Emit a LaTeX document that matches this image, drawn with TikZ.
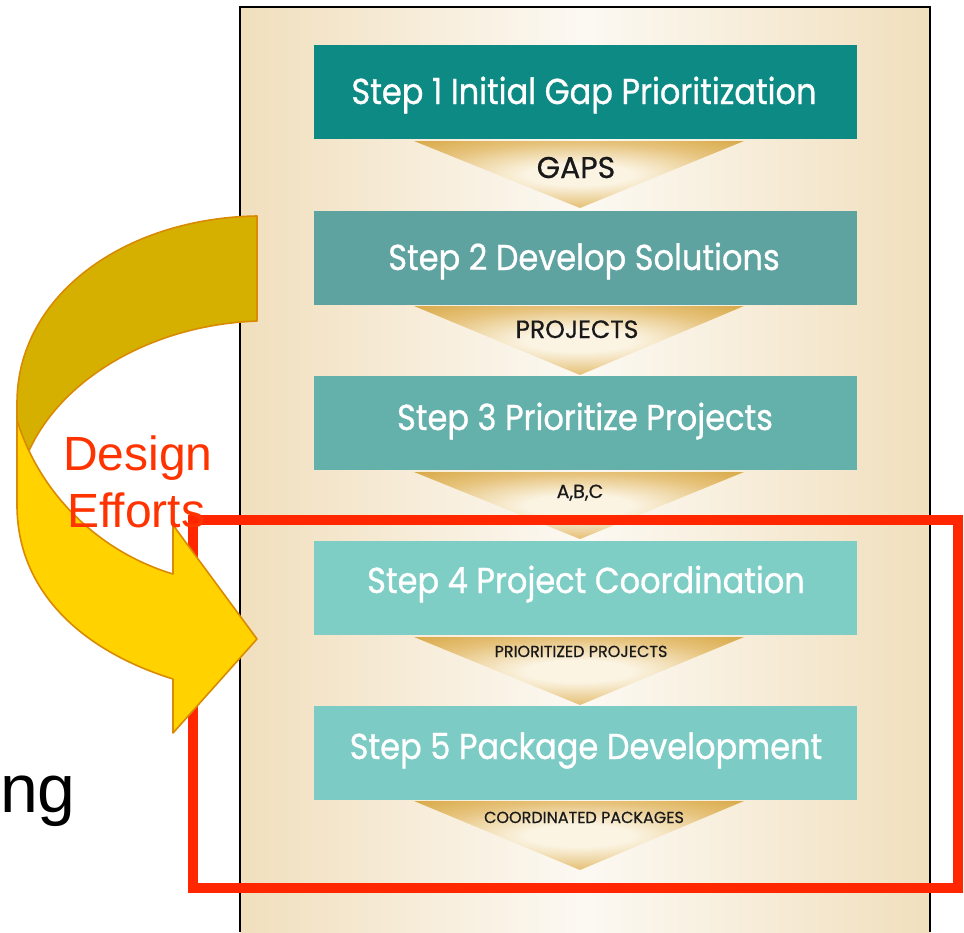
\documentclass[tikz,border=0pt]{standalone}
\usepackage{fontspec}
\setmainfont{Liberation Sans}
\newfontfamily\stepfont[FakeStretch=0.89,FakeBold=0.8]{Poppins}
\newfontfamily\labfont[FakeBold=0.6]{Poppins}
\newfontfamily\arialfont{Liberation Sans}
\definecolor{panelTan}{HTML}{F1DFBD}
\definecolor{panelCream}{HTML}{FCF9F3}
\definecolor{stepA}{HTML}{0E8A85}
\definecolor{stepB}{HTML}{5FA3A0}
\definecolor{stepC}{HTML}{64B0AB}
\definecolor{stepD}{HTML}{7FCEC6}
\definecolor{stepE}{HTML}{7DCBC5}
\definecolor{goldF}{HTML}{D3A035}
\definecolor{goldM}{HTML}{E6C27A}
\definecolor{creamF}{HTML}{FBF4E3}
\definecolor{redR}{HTML}{FF2600}
\definecolor{arrowDark}{HTML}{D5B000}
\definecolor{arrowLight}{HTML}{FFD200}
\definecolor{arrowEdge}{HTML}{D98A00}
\definecolor{textRed}{HTML}{FF3300}
\pgfdeclareradialshading{funnelshade}{\pgfpoint{0bp}{0bp}}{color(0bp)=(creamF); color(8bp)=(creamF); color(24bp)=(goldM); color(40bp)=(goldF); color(60bp)=(goldF)}
\begin{document}
\begin{tikzpicture}[x=1pt,y=-1pt,
  stepbox/.style={fill=#1, draw=none, minimum width=543pt, minimum height=94pt, inner sep=0pt},
  steptext/.style={text=white, inner sep=0pt, anchor=base, font=\stepfont\fontsize{36}{40}\selectfont},
  funnel/.style={shading=funnelshade, draw=none},
  funneltext/.style={text=black!90, inner sep=0pt, anchor=base, font=\labfont\fontsize{#1}{#1}\selectfont},
  arrowpart/.style={fill=#1, draw=arrowEdge, line width=1.6pt, line join=round},
  redtext/.style={text=textRed, inner sep=0pt, anchor=base west, font=\arialfont\fontsize{48}{56}\selectfont}
]
\useasboundingbox (0,0) rectangle (964,932);
\fill[white] (0,0) rectangle (964,932);
% panel
\shade[left color=panelTan, right color=panelTan, middle color=panelCream] (240,7) rectangle (930,932);
\draw[line width=2.5pt] (240,932) -- (240,7) -- (930,7) -- (930,932);
% step boxes
\node[stepbox=stepA] (s1) at (585,92) {};
\node[stepbox=stepB] (s2) at (585,258) {};
\node[stepbox=stepC] (s3) at (585,423) {};
\node[stepbox=stepD] (s4) at (585,587.5) {};
\node[stepbox=stepE] (s5) at (585,752.5) {};
\node[steptext] (t1) at (584,104) {Step 1 Initial Gap Prioritization};
\node[steptext] (t2) at (584,270) {Step 2 Develop Solutions};
\node[steptext] (t3) at (585,430) {Step 3 Prioritize Projects};
\node[steptext] (t4) at (586,593) {Step 4 Project Coordination};
\node[steptext] (t5) at (586,759) {Step 5 Package Development};
% funnels
\shade[funnel] (414,141) -- (744,141) -- (580,208) -- cycle;
\shade[funnel] (414,306) -- (744,306) -- (580,375) -- cycle;
\shade[funnel] (414,472) -- (744,472) -- (580,539) -- cycle;
\shade[funnel] (414,637) -- (744,637) -- (580,705) -- cycle;
\shade[funnel] (414,801) -- (744,801) -- (580,870) -- cycle;
\node[funneltext=30] (l1) at (576,178) {GAPS};
\node[funneltext=25] (l2) at (577,338) {PROJECTS};
\node[funneltext=19] (l3) at (580,498) {A,B,C};
\node[funneltext=16] (l4) at (581,657) {PRIORITIZED PROJECTS};
\node[funneltext=16] (l5) at (584,823) {COORDINATED PACKAGES};
% red frame
\draw[redR, line width=10pt] (193,520) rectangle (958,888);
% curved arrow: back band
\path[arrowpart=arrowDark] (257,216) .. controls (125,218) and (17,295) .. (17,403)
  -- (17,440) -- (28,453) .. controls (60,380) and (150,325) .. (257,321) -- cycle;
% front band with head
\path[arrowpart=arrowLight] (17,420) .. controls (40,495) and (100,552) .. (173,574)
  -- (173,525) -- (257,639) -- (173,733) -- (173,679)
  .. controls (80,650) and (17,590) .. (17,505) -- cycle;
% texts
\node[redtext] (d1) at (63,470) {Design};
\node[redtext] (d2) at (67,527) {Efforts};
\node[inner sep=0pt, anchor=base east, font=\arialfont\fontsize{68}{70}\selectfont] (ng) at (76,812) {ng};
\end{tikzpicture}
\end{document}
